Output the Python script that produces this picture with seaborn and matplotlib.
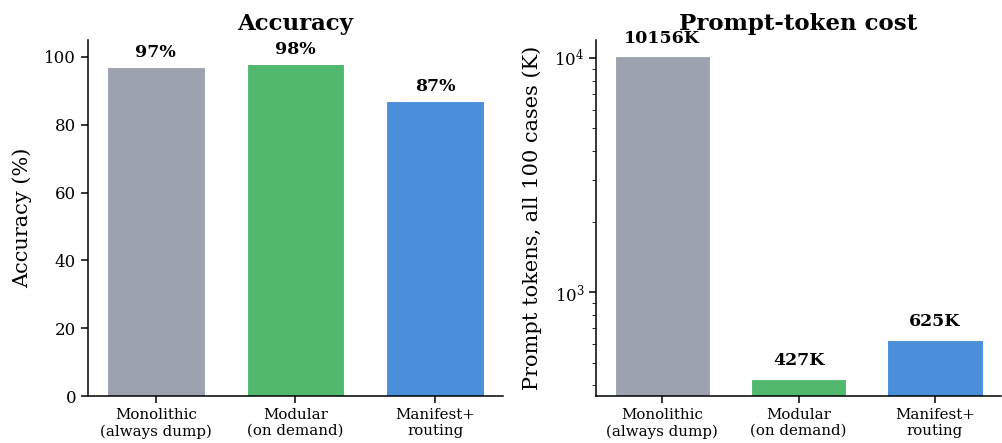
import pandas as pd
import seaborn as sns
import matplotlib.pyplot as plt

# 数据
methods = ['Monolithic\n(always dump)', 'Modular\n(on demand)', 'Manifest+\nrouting']
accuracy = [97, 98, 87]
prompt_tokens_k = [10156, 427, 625]
colors = ['#9CA3AF', '#51B96D', '#4A8FD9']

df = pd.DataFrame({'method': methods, 'acc': accuracy, 'tokens': prompt_tokens_k})

sns.set_style('ticks')
plt.rcParams['font.family'] = ['DejaVu Serif']
plt.rcParams.update({'text.color': 'black', 'axes.labelcolor': 'black',
                     'xtick.color': 'black', 'ytick.color': 'black',
                     'axes.edgecolor': 'black', 'axes.linewidth': 1.1,
                     'xtick.major.size': 5, 'ytick.major.size': 5,
                     'ytick.minor.size': 3, 'xtick.major.width': 1.1,
                     'ytick.major.width': 1.1})

fig = plt.figure(figsize=(10.02, 4.43), dpi=100)
ax1 = fig.add_axes([0.0878, 0.106, 0.414, 0.804])
ax2 = fig.add_axes([0.595, 0.106, 0.404, 0.804])

# 准确率
sns.barplot(data=df, x='method', y='acc', hue='method', palette=colors, saturation=1,
            width=0.7, edgecolor='white', linewidth=0.8, legend=False, ax=ax1)
for c, v in zip(ax1.containers, accuracy):
    ax1.bar_label(c, labels=[f'{v}%'], padding=4, fontsize=12.5, fontweight='bold')
ax1.set_ylim(0, 105)
ax1.set_xlim(-0.485, 2.485)
ax1.set_title('Accuracy', fontsize=16.5, fontweight='bold', pad=7)
ax1.set_ylabel('Accuracy (%)', fontsize=15, labelpad=9)
ax1.set_xlabel('')
ax1.tick_params(axis='y', labelsize=12)
ax1.tick_params(axis='x', labelsize=10.8)

# token 成本（对数轴）
sns.barplot(data=df, x='method', y='tokens', hue='method', palette=colors, saturation=1,
            width=0.7, edgecolor='white', linewidth=0.8, legend=False, ax=ax2)
ax2.set_yscale('log')
for c, v in zip(ax2.containers, prompt_tokens_k):
    ax2.bar_label(c, labels=[f'{v}K'], padding=7, fontsize=12.5, fontweight='bold')
ax2.set_ylim(360, 11950)
ax2.set_xlim(-0.485, 2.485)
ax2.set_title('Prompt-token cost', fontsize=16.5, fontweight='bold', pad=7)
ax2.set_ylabel('Prompt tokens, all 100 cases (K)', fontsize=15, labelpad=9)
ax2.set_xlabel('')
ax2.tick_params(axis='y', labelsize=12)
ax2.tick_params(axis='x', labelsize=10.8)

sns.despine(fig=fig)
fig.savefig('out.png', dpi=100)
